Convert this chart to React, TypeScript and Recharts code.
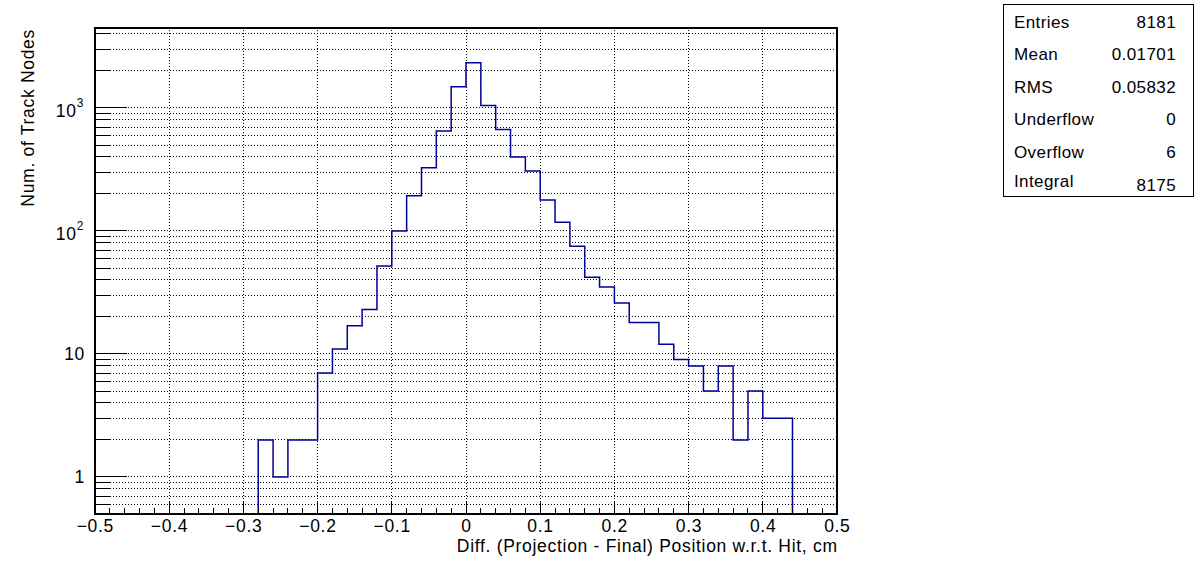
import React from 'react';
import { ComposedChart, Line, XAxis, YAxis, ReferenceLine, ReferenceArea } from 'recharts';

// ---- data ----
const X_MIN = -0.5;
const X_MAX = 0.5;
const BIN_WIDTH = 0.02;
// counts per bin, from -0.50 to 0.50 (50 bins of 0.02)
const COUNTS = [
  0, 0, 0, 0, 0, 0, 0, 0, 0, 0, 0,
  2, 1, 2, 2,
  7, 11, 17, 23, 52, 100, 193, 327, 650, 1490,
  2330, 1050, 670, 400, 307, 179, 118, 75, 42, 35, 26, 18, 18, 12, 9, 8, 5, 8, 2, 5, 3, 3,
  0, 0, 0,
];
const Y_MIN = 0.5;
const Y_MAX = 4470;
const Y_TICKS = [
  0.6, 0.7, 0.8, 0.9,
  1, 2, 3, 4, 5, 6, 7, 8, 9,
  10, 20, 30, 40, 50, 60, 70, 80, 90,
  100, 200, 300, 400, 500, 600, 700, 800, 900,
  1000, 2000, 3000, 4000,
];
const Y_MAJOR = [1, 10, 100, 1000];
const Y_LABEL_BASE = ['1', '10', '10', '10'];
const Y_LABEL_EXP = ['', '', '2', '3'];
const X_MAJOR = [-0.5, -0.4, -0.3, -0.2, -0.1, 0, 0.1, 0.2, 0.3, 0.4, 0.5];
const X_LABELS = ['\u22120.5', '\u22120.4', '\u22120.3', '\u22120.2', '\u22120.1', '0', '0.1', '0.2', '0.3', '0.4', '0.5'];
const X_GRID = [-0.4, -0.3, -0.2, -0.1, 0, 0.1, 0.2, 0.3, 0.4];
const X_TITLE = 'Diff. (Projection - Final) Position w.r.t. Hit, cm';
const Y_TITLE = 'Num. of Track Nodes';
const STATS_LABELS = ['Entries', 'Mean', 'RMS', 'Underflow', 'Overflow', 'Integral'];
const STATS_VALUES = ['8181', '0.01701', '0.05832', '0', '6', '8175'];

const FONT = '"Liberation Sans", Arial, Helvetica, sans-serif';
const AX_FS = 17.5;
const AX_LS = 0.7;
const round2 = (v: number) => Math.round(v * 100) / 100;

const nBins = COUNTS.length;
const X_TICKS: number[] = [];
for (let i = 0; i <= nBins; i++) X_TICKS.push(round2(X_MIN + i * BIN_WIDTH));

const data = X_TICKS.map((x, i) => {
  const c = i < nBins ? COUNTS[i] : COUNTS[nBins - 1];
  return { x, y: Math.max(c, Y_MIN) };
});

const findIdx = (arr: number[], v: number) => arr.findIndex((a) => Math.abs(a - v) < 1e-6);

const XTick = (props: any) => {
  const { x, y, payload } = props;
  const idx = findIdx(X_MAJOR, payload.value);
  const len = idx >= 0 ? 12 : 6;
  return (
    <g>
      <line x1={x} x2={x} y1={y} y2={y - len} stroke="#000" strokeWidth={1} shapeRendering="crispEdges" />
      {idx >= 0 && (
        <text
          x={x + AX_LS / 2}
          y={y + 18}
          textAnchor="middle"
          fontSize={AX_FS}
          letterSpacing={AX_LS}
          fontFamily={FONT}
          fill="#000"
        >
          {X_LABELS[idx]}
        </text>
      )}
    </g>
  );
};

const YTick = (props: any) => {
  const { x, y, payload } = props;
  const idx = findIdx(Y_MAJOR, payload.value);
  const len = idx >= 0 ? 32 : 16;
  const hasExp = idx >= 0 && Y_LABEL_EXP[idx] !== '';
  return (
    <g>
      <line x1={x} x2={x + len} y1={y} y2={y} stroke="#000" strokeWidth={1} shapeRendering="crispEdges" />
      {idx >= 0 && !hasExp && (
        <text
          x={x - 10}
          y={y + 6}
          textAnchor="end"
          fontSize={AX_FS}
          letterSpacing={AX_LS}
          fontFamily={FONT}
          fill="#000"
        >
          {Y_LABEL_BASE[idx]}
        </text>
      )}
      {hasExp && (
        <text
          x={x - 11}
          y={y + 8.6}
          textAnchor="end"
          fontSize={AX_FS}
          letterSpacing={AX_LS}
          fontFamily={FONT}
          fill="#000"
        >
          {Y_LABEL_BASE[idx]}
          <tspan fontSize={12} dy={-9.6}>{Y_LABEL_EXP[idx]}</tspan>
        </text>
      )}
    </g>
  );
};

const STATS_Y = [27.7, 60, 92.7, 125, 157.7, 187];
const STATS_VY = [27.7, 60, 92.7, 125, 157.7, 191];

export default function App() {
  return (
    <div style={{ position: 'absolute', left: 0, top: 0, width: 1196, height: 572, background: '#fff' }}>
      <div style={{ position: 'absolute', left: 0, top: 0 }}>
        <ComposedChart
          width={1196}
          height={572}
          data={data}
          margin={{ top: 28, right: 359, bottom: 57, left: 94 }}
        >
          <XAxis
            dataKey="x"
            type="number"
            domain={[X_MIN, X_MAX]}
            allowDataOverflow
            ticks={X_TICKS}
            interval={0}
            height={1}
            tickSize={0}
            tickMargin={0}
            axisLine={false}
            tickLine={false}
            tick={(p: any) => <XTick {...p} />}
          />
          <YAxis
            type="number"
            scale="log"
            domain={[Y_MIN, Y_MAX]}
            allowDataOverflow
            ticks={Y_TICKS}
            interval={0}
            width={1}
            tickSize={0}
            tickMargin={0}
            axisLine={false}
            tickLine={false}
            tick={(p: any) => <YTick {...p} />}
          />
          {Y_TICKS.map((v) => (
            <ReferenceLine
              key={'h' + v}
              y={v}
              stroke="#000"
              strokeWidth={1}
              strokeDasharray="1 2"
              shapeRendering="crispEdges"
            />
          ))}
          {X_GRID.map((v) => (
            <ReferenceLine
              key={'v' + v}
              x={v}
              stroke="#000"
              strokeWidth={1}
              strokeDasharray="1 2"
              shapeRendering="crispEdges"
            />
          ))}
          <Line
            dataKey="y"
            type="stepAfter"
            stroke="#000099"
            strokeWidth={1.5}
            dot={false}
            activeDot={false}
            isAnimationActive={false}
          />
          <ReferenceArea
            x1={X_MIN}
            x2={X_MAX}
            y1={Y_MIN}
            y2={Y_MAX}
            fill="none"
            fillOpacity={0}
            stroke="#000"
            strokeWidth={2}
          />
        </ComposedChart>
      </div>
      <svg
        width={1196}
        height={572}
        style={{ position: 'absolute', left: 0, top: 0, pointerEvents: 'none' }}
      >
        <text
          x={837 + AX_LS}
          y={552}
          textAnchor="end"
          fontSize={AX_FS}
          letterSpacing={AX_LS}
          fontFamily={FONT}
          fill="#000"
        >
          {X_TITLE}
        </text>
        <text
          x={33.5}
          y={29}
          transform="rotate(-90 33.5 29)"
          textAnchor="end"
          fontSize={AX_FS}
          letterSpacing={AX_LS}
          fontFamily={FONT}
          fill="#000"
        >
          {Y_TITLE}
        </text>
        <rect x={1003.5} y={4.5} width={190} height={192} fill="#fff" stroke="#000" strokeWidth={1} />
        {STATS_LABELS.map((lab, i) => (
          <g key={lab}>
            <text x={1014} y={STATS_Y[i]} fontSize={17} letterSpacing={0.4} fontFamily={FONT} fill="#000">
              {lab}
            </text>
            <text
              x={1176}
              y={STATS_VY[i]}
              textAnchor="end"
              fontSize={17}
              letterSpacing={0.4}
              fontFamily={FONT}
              fill="#000"
            >
              {STATS_VALUES[i]}
            </text>
          </g>
        ))}
      </svg>
    </div>
  );
}
